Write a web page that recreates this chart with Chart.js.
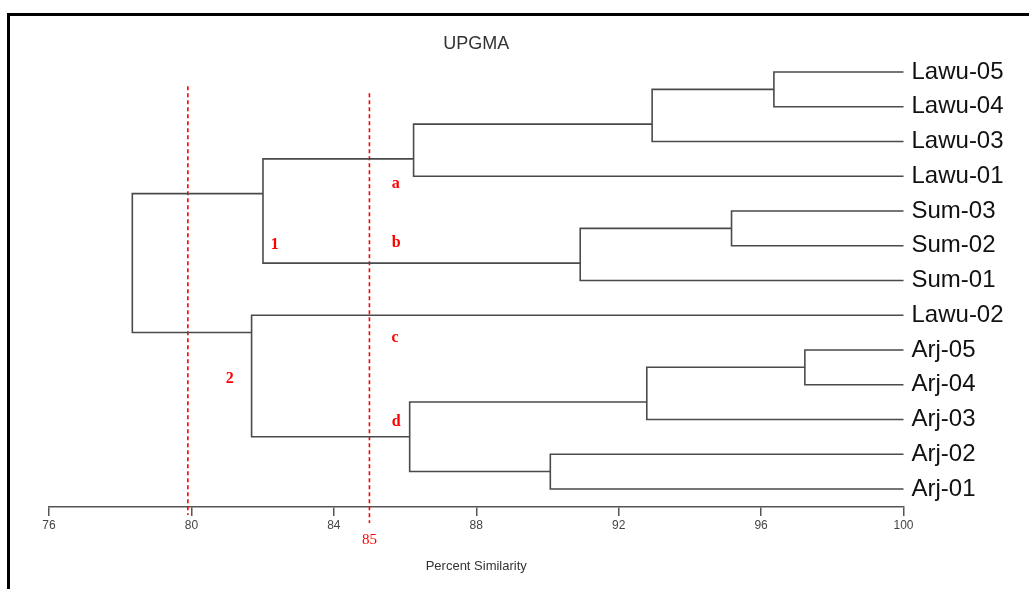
<!DOCTYPE html>
<html>
<head>
<meta charset="utf-8">
<script src="https://cdn.jsdelivr.net/npm/chart.js@4.4.1/dist/chart.umd.min.js"></script>
<style>
  html, body { margin: 0; padding: 0; background: #fff; overflow: hidden; }
  #wrap { position: relative; width: 1029px; height: 589px; }
  #frame { position: absolute; left: 7px; top: 13px; width: 1040px; height: 600px;
           border-left: 3px solid #000; border-top: 3px solid #000; pointer-events: none; }
</style>
</head>
<body>
<div id="wrap">
  <canvas id="upgma"></canvas>
  <div id="frame"></div>
</div>
<script>
// leaves, top to bottom
const leaves = ['Lawu-05', 'Lawu-04', 'Lawu-03', 'Lawu-01', 'Sum-03', 'Sum-02', 'Sum-01',
                'Lawu-02', 'Arj-05', 'Arj-04', 'Arj-03', 'Arj-02', 'Arj-01'];

// merge steps, node k is called 'N' + (k + 1)
const mergeLeft  = ['Lawu-05', 'N1', 'N2', 'Sum-03', 'N4', 'N3', 'Arj-05', 'N7', 'Arj-02', 'N8', 'Lawu-02', 'N6'];
const mergeRight = ['Lawu-04', 'Lawu-03', 'Lawu-01', 'Sum-02', 'Sum-01', 'N5', 'Arj-04', 'Arj-03', 'Arj-01', 'N9', 'N10', 'N11'];
const mergeSimilarity = [96.36, 92.94, 86.24, 95.17, 90.92, 82.01, 97.23, 92.79, 90.08, 86.13, 81.69, 78.34];

const xTicks = [76, 80, 84, 88, 92, 96, 100];
const cutLevels = [79.9, 85];

// red annotations (x in % similarity, y in leaf rows)
const groupLabels = ['a', 'b', 'c', 'd', '1', '2'];
const groupLabelX = [85.74, 85.75, 85.72, 85.75, 82.34, 81.08];
const groupLabelY = [3.23, 4.92, 7.66, 10.07, 4.98, 8.84];
const cutSpanTop = [0.41, 0.61];
const cutSpanBottom = [12.75, 12.98];

// layout the tree
const nodeX = {}, nodeY = {}, firstLeaf = {}, lastLeaf = {};
leaves.forEach((name, i) => {
  nodeX[name] = 100; nodeY[name] = i; firstLeaf[name] = i; lastLeaf[name] = i;
});
const branches = [];
mergeLeft.forEach((l, k) => {
  const r = mergeRight[k], id = 'N' + (k + 1), h = mergeSimilarity[k];
  firstLeaf[id] = firstLeaf[l];
  lastLeaf[id] = lastLeaf[r];
  nodeX[id] = h;
  nodeY[id] = (lastLeaf[l] + firstLeaf[r]) / 2;
  branches.push({x: nodeX[l], y: nodeY[l]}, {x: h, y: nodeY[l]},
                {x: h, y: nodeY[r]}, {x: nodeX[r], y: nodeY[r]}, {x: null, y: null});
});

const cutSets = cutLevels.map((c, i) => ({
  data: [{x: c, y: cutSpanTop[i]}, {x: c, y: cutSpanBottom[i]}],
  borderColor: '#ff0000',
  borderWidth: 1.6,
  borderDash: [4, 3],
  showLine: true,
  pointRadius: 0,
  clip: false
}));

const redLabels = {
  id: 'redLabels',
  afterDatasetsDraw(chart) {
    const {ctx, scales: {x, y}} = chart;
    ctx.save();
    ctx.fillStyle = '#ff0000';
    ctx.textAlign = 'center';
    ctx.textBaseline = 'middle';
    ctx.font = 'bold 16px "Liberation Serif", "Times New Roman", serif';
    groupLabels.forEach((t, i) => {
      ctx.fillText(t, x.getPixelForValue(groupLabelX[i]), y.getPixelForValue(groupLabelY[i]));
    });
    ctx.font = '15px "Liberation Serif", "Times New Roman", serif';
    ctx.fillText('85', x.getPixelForValue(cutLevels[1]), y.getPixelForValue(13.46));
    ctx.restore();
  }
};

Chart.defaults.font.family = '"Liberation Sans", Arial, sans-serif';

new Chart(document.getElementById('upgma'), {
  type: 'scatter',
  data: {
    datasets: [{
      data: branches,
      borderColor: '#4a4a4a',
      borderWidth: 1.6,
      showLine: true,
      pointRadius: 0,
      spanGaps: false,
      borderCapStyle: 'square'
    }].concat(cutSets)
  },
  options: {
    responsive: true,
    maintainAspectRatio: false,
    animation: false,
    layout: {padding: {left: 49, right: 0, top: 0, bottom: 0}},
    plugins: {
      legend: {display: false},
      tooltip: {enabled: false},
      title: {
        display: true,
        text: 'UPGMA',
        fullSize: false,
        color: '#333',
        font: {size: 18, weight: 'normal'},
        padding: {top: 33, bottom: 0}
      }
    },
    scales: {
      x: {
        type: 'linear',
        position: 'bottom',
        min: 76,
        max: 100,
        afterBuildTicks: s => { s.ticks = xTicks.map(v => ({value: v})); },
        afterFit: s => { s.height = 82; },
        ticks: {color: '#444', font: {size: 12}, padding: 2, maxRotation: 0},
        grid: {drawOnChartArea: false, drawTicks: true, tickLength: 9, color: '#555', lineWidth: 1.5},
        border: {display: true, color: '#555', width: 1.5},
        title: {
          display: true,
          text: 'Percent Similarity',
          color: '#333',
          font: {size: 13},
          padding: {top: 0, bottom: 15}
        }
      },
      y: {
        type: 'linear',
        position: 'right',
        reverse: true,
        min: -0.5,
        max: 12.52,
        afterBuildTicks: s => { s.ticks = leaves.map((_, i) => ({value: i})); },
        afterFit: s => { s.width = 125.5; },
        ticks: {
          callback: v => leaves[v],
          color: '#111',
          font: {size: 24},
          padding: 8,
          autoSkip: false
        },
        grid: {display: false, drawTicks: false},
        border: {display: false}
      }
    }
  },
  plugins: [redLabels]
});
</script>
</body>
</html>
